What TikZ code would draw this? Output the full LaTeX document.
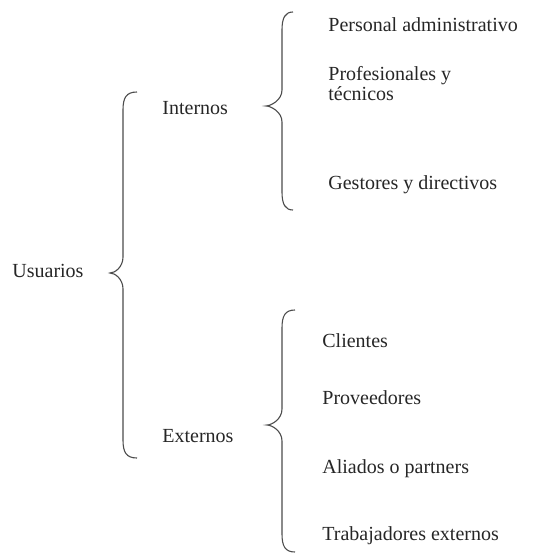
\documentclass[tikz,border=0pt]{standalone}
\usepackage{fontspec}
\setmainfont{Liberation Serif}
\begin{document}
\begin{tikzpicture}[x=0.5pt,y=-0.5pt,
  lbl/.style={anchor=base west,inner sep=0pt,text=black!85,font=\fontsize{10}{10}\selectfont,align=left},
  brace/.style={draw=black!70,line width=0.55pt}]
\useasboundingbox (0,0) rectangle (532,555);
% brace macro-like paths
\newcommand{\mybrace}[6]{% tx ty lx ex yt yb
  \draw[brace] (#4,#5) .. controls (#3+3,#5) and (#3,#5+6) .. (#3,#5+18)
    -- (#3,#2-16) .. controls (#3,#2-6) and (#1+5,#2) .. (#1,#2)
    .. controls (#1+5,#2) and (#3,#2+6) .. (#3,#2+16)
    -- (#3,#6-18) .. controls (#3,#6-6) and (#3+3,#6) .. (#4,#6);}
\node[lbl] (usu) at (12,278) {Usuarios};
\node[lbl] (int) at (162,115) {Internos};
\node[lbl] (ext) at (162,442) {Externos};
\node[lbl] (pa) at (328,32) {Personal administrativo};
\node[lbl] (pt) at (328,101) {Profesionales y\\técnicos};
\node[lbl] (gd) at (328,190) {Gestores y directivos};
\node[lbl] (cl) at (322,347) {Clientes};
\node[lbl] (pr) at (322,404) {Proveedores};
\node[lbl] (al) at (322,473) {Aliados o partners};
\node[lbl] (tr) at (322,540) {Trabajadores externos};
\mybrace{110}{273}{123}{137}{92}{458}
\mybrace{266}{106}{282}{293}{12}{210}
\mybrace{267}{425}{282}{295}{310}{552}
\end{tikzpicture}
\end{document}
